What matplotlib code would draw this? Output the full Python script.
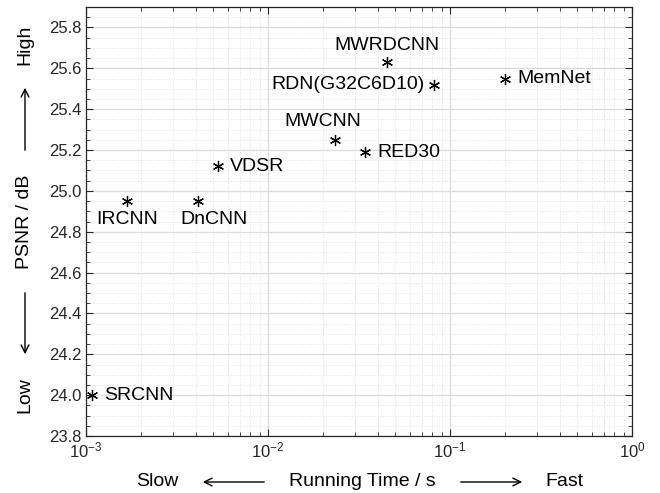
import matplotlib
matplotlib.use('Agg')
from matplotlib import pyplot as plt
from matplotlib.ticker import LogLocator, MultipleLocator

plt.rcParams['font.family'] = ['Liberation Sans', 'DejaVu Sans']

names = ['SRCNN', 'IRCNN', 'DnCNN', 'VDSR', 'MWCNN', 'RED30',
         'MWRDCNN', 'RDN(G32C6D10)', 'MemNet']
times = [1.08e-3, 1.68e-3, 4.1e-3, 5.3e-3, 0.0233, 0.0341, 0.0449, 0.082, 0.2]
psnr = [24.00, 24.95, 24.95, 25.12, 25.25, 25.19, 25.63, 25.52, 25.55]

# label offset in points and alignment, per method
offsets = [(9, 0, 'left'), (0, -13, 'center'), (12, -13, 'center'),
           (9, 0, 'left'), (-9, 13, 'center'), (9, 0, 'left'),
           (0, 12, 'center'), (-7, 0, 'right'), (9, 0, 'left')]

fig = plt.figure(figsize=(6.6, 4.93), dpi=100)
ax = fig.add_axes([0.1303, 0.1156, 0.8273, 0.8702])

ax.plot(times, psnr, linestyle='none', marker=(6, 2, 0), markersize=8,
        color='black', markeredgewidth=0.9)

for n, t, p, (dx, dy, ha) in zip(names, times, psnr, offsets):
    ax.annotate(n, (t, p), xytext=(dx, dy), textcoords='offset points',
                ha=ha, va='center', fontsize=14)

ax.set_xscale('log')
ax.set_xlim(1e-3, 1e0)
ax.set_ylim(23.8, 25.9)
ax.yaxis.set_major_locator(MultipleLocator(0.2))
ax.yaxis.set_minor_locator(MultipleLocator(0.05))
ax.xaxis.set_major_locator(LogLocator(base=10, numticks=10))
ax.xaxis.set_minor_locator(LogLocator(base=10, subs=range(2, 10), numticks=20))
ax.yaxis.set_major_formatter(plt.FormatStrFormatter('%.1f'))

ax.grid(which='major', color='#dcdcdc', linewidth=0.9)
ax.grid(which='minor', color='#e2e2e2', linestyle=':', linewidth=0.7)
ax.set_axisbelow(True)
ax.tick_params(which='both', direction='in', top=True, right=True,
               labelsize=12, colors='#262626')
ax.tick_params(which='major', length=5)
ax.tick_params(which='minor', length=3)
for s in ax.spines.values():
    s.set_color('#262626')
    s.set_linewidth(0.9)

# x axis label with arrows
W, H = 660, 493
fy = 1 - 482 / H
fig.text(157 / W, fy, 'Slow', ha='center', va='center', fontsize=14)
fig.text(362 / W, fy, 'Running Time / s', ha='center', va='center', fontsize=14)
fig.text(564 / W, fy, 'Fast', ha='center', va='center', fontsize=14)
arrow = dict(arrowstyle='->', lw=1.0, color='black', mutation_scale=14)
fig.add_artist(plt.matplotlib.patches.FancyArrowPatch(
    (267 / W, fy), (200 / W, fy), transform=fig.transFigure, **arrow))
fig.add_artist(plt.matplotlib.patches.FancyArrowPatch(
    (458 / W, fy), (525 / W, fy), transform=fig.transFigure, **arrow))

# y axis label with arrows
fx = 25 / W
fig.text(fx, 1 - 395 / H, 'Low', ha='center', va='center', fontsize=14, rotation=90)
fig.text(fx, 1 - 222 / H, 'PSNR / dB', ha='center', va='center', fontsize=14, rotation=90)
fig.text(fx, 1 - 45 / H, 'High', ha='center', va='center', fontsize=14, rotation=90)
fig.add_artist(plt.matplotlib.patches.FancyArrowPatch(
    (fx, 1 - 290 / H), (fx, 1 - 357 / H), transform=fig.transFigure, **arrow))
fig.add_artist(plt.matplotlib.patches.FancyArrowPatch(
    (fx, 1 - 153 / H), (fx, 1 - 85 / H), transform=fig.transFigure, **arrow))

fig.savefig('out.png', dpi=100)
